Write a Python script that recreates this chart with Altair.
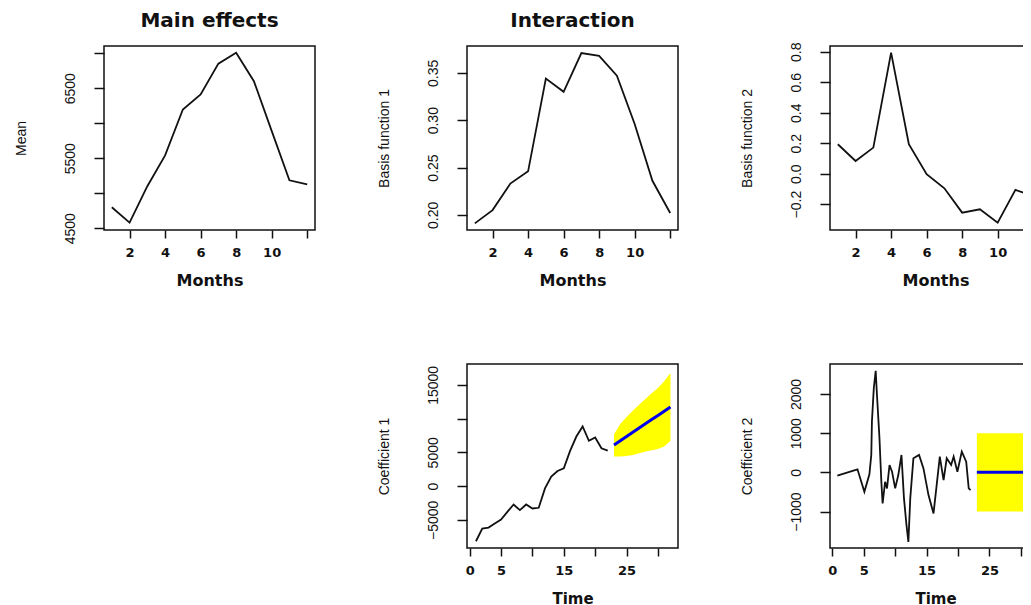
import altair as alt
import pandas as pd

# ---------------- data ----------------
months = [1, 2, 3, 4, 5, 6, 7, 8, 9, 10, 11, 12]
main_mean = [4800, 4580, 5100, 5540, 6195, 6410, 6850, 7005, 6600, 5890, 5185, 5125]
basis1 = [0.191, 0.205, 0.233, 0.246, 0.344, 0.330, 0.371, 0.368, 0.347, 0.296, 0.236, 0.202]
basis2 = [0.193, 0.083, 0.171, 0.794, 0.193, -0.004, -0.096, -0.256, -0.234, -0.322, -0.107, -0.147]

coef1_time = [1, 2, 3, 4, 5, 6, 7, 8, 9, 10, 11, 12, 13, 14, 15, 16, 17, 18, 19, 20, 21, 22]
coef1 = [-8180, -6300, -6150, -5560, -4960, -3820, -2730, -3570, -2730, -3320, -3220,
         -350, 1390, 2230, 2630, 5210, 7340, 8830, 6700, 7190, 5600, 5260]

fc_time = [23, 24, 25, 26, 27, 28, 29, 30, 31, 32]
fc1_mean = [6100, 6720, 7350, 7970, 8600, 9220, 9850, 10470, 11100, 11710]
fc1_lower = [4370, 4380, 4460, 4610, 4860, 5110, 5310, 5510, 5850, 6700]
fc1_upper = [7690, 9180, 10220, 11160, 12050, 12900, 13740, 14530, 15520, 16760]

coef2_time = [0.8, 4.0, 5.1, 5.9, 6.2, 6.3, 6.6, 6.9, 7.1, 7.5, 7.8, 8.0, 8.4, 8.7, 9.1,
              9.5, 10.0, 10.5, 11.0, 11.4, 11.8, 12.1, 12.4, 12.9, 13.8, 14.5, 15.3,
              16.1, 16.6, 17.1, 17.7, 18.2, 18.9, 19.3, 19.9, 20.6, 21.3, 21.7, 22.0]
coef2 = [-85, 77, -495, -51, 444, 1297, 2150, 2593, 1979, 870, -239, -793, -239, -409, 188,
         17, -409, -68, 444, -665, -1348, -1774, -665, 358, 444, 102, -580,
         -1049, -324, 401, -196, 358, 188, 401, 17, 529, 273, -409, -452]

fc2_mean = [0, 0, 0, 0, 0, 0, 0, 0, 0, 0]
fc2_lower = [-1000, -1000, -1000, -1000, -1000, -1000, -1000, -1000, -1000, -1000]
fc2_upper = [1000, 1000, 1000, 1000, 1000, 1000, 1000, 1000, 1000, 1000]

# ---------------- styling ----------------
BLACK = "#111111"
W, H = 211, 184
LW = 1.8
BOLD_FONT = "DejaVu Sans"
Y_FONT = "'Liberation Sans Narrow', 'Liberation Sans', Arial"
VIEW = alt.ViewBackground(stroke=BLACK, strokeWidth=1.5, fill="white")


def hide_expr(hide):
    if not hide:
        return "datum.label"
    cond = " || ".join(f"datum.value == {v}" for v in hide)
    return f"({cond}) ? '' : datum.label"


def x_axis(title, values, hide, tpad=13, tsize=16):
    return alt.Axis(
        title=title, values=values, labelExpr=hide_expr(hide), format="d",
        domain=False, grid=False, tickSize=8, tickWidth=1.5, tickColor=BLACK,
        labelFont=BOLD_FONT, labelFontWeight="bold", labelFontSize=13, labelColor=BLACK,
        labelPadding=8, labelFlush=False, labelOverlap=False,
        titleFont=BOLD_FONT, titleFontWeight="bold", titleFontSize=tsize, titleColor=BLACK,
        titlePadding=tpad,
    )


def y_axis(title, values, hide, fmt):
    return alt.Axis(
        title=title, values=values, labelExpr=hide_expr(hide), format=fmt,
        domain=False, grid=False, tickSize=10, tickWidth=1.5, tickColor=BLACK,
        labelFont=Y_FONT, labelFontSize=14, labelColor=BLACK, labelAngle=270,
        labelAlign="center", labelBaseline="bottom", labelPadding=17,
        labelFlush=False, labelOverlap=False,
        titleFont=Y_FONT, titleFontSize=14, titleFontWeight="normal", titleColor=BLACK,
        titlePadding=35,
    )


def title(text):
    return alt.TitleParams(text, anchor="middle", frame="group", font=BOLD_FONT,
                           fontSize=20, fontWeight="bold", color=BLACK,
                           baseline="top", offset=15)


def sc(lo, hi):
    return alt.Scale(domain=[lo, hi], nice=False, zero=False)


month_ticks = [2, 4, 6, 8, 10, 12]
time_ticks = [0, 5, 10, 15, 20, 25, 30]

# ---- Panel 1: Main effects ----
df1 = pd.DataFrame({"t": months, "v": main_mean})
p1 = alt.Chart(df1).mark_line(color=BLACK, strokeWidth=LW, clip=True).encode(
    x=alt.X("t:Q", scale=sc(0.56, 12.44), axis=x_axis("Months", month_ticks, [12])),
    y=alt.Y("v:Q", scale=sc(4475, 7102),
            axis=y_axis("Mean", [4500, 5000, 5500, 6000, 6500, 7000], [5000, 6000, 7000], "d")),
).properties(width=W, height=H, title=title("Main effects"), view=VIEW)

# ---- Panel 2: Basis function 1 ----
df2 = pd.DataFrame({"t": months, "v": basis1})
p2 = alt.Chart(df2).mark_line(color=BLACK, strokeWidth=LW, clip=True).encode(
    x=alt.X("t:Q", scale=sc(0.56, 12.44), axis=x_axis("Months", month_ticks, [12])),
    y=alt.Y("v:Q", scale=sc(0.1840, 0.3784),
            axis=y_axis("Basis function 1", [0.20, 0.25, 0.30, 0.35], [], ".2f")),
).properties(width=W, height=H, title=title("Interaction"), view=VIEW)

# ---- Panel 3: Basis function 2 ----
df3 = pd.DataFrame({"t": months, "v": basis2})
p3 = alt.Chart(df3).mark_line(color=BLACK, strokeWidth=LW, clip=True).encode(
    x=alt.X("t:Q", scale=sc(0.56, 12.44), axis=x_axis("Months", month_ticks, [12])),
    y=alt.Y("v:Q", scale=sc(-0.370, 0.838),
            axis=y_axis("Basis function 2", [-0.2, 0.0, 0.2, 0.4, 0.6, 0.8], [], ".1f")),
).properties(width=W, height=H, view=VIEW)

# ---- blank cell ----
blank = alt.Chart(pd.DataFrame({"t": [0]})).mark_point(opacity=0).encode(
    x=alt.X("t:Q", axis=None), y=alt.Y("t:Q", axis=None)
).properties(width=W, height=H, view=alt.ViewBackground(stroke="transparent"))

# ---- Panel 4: Coefficient 1 ----
dh4 = pd.DataFrame({"t": coef1_time, "v": coef1})
df4 = pd.DataFrame({"t": fc_time, "v": fc1_mean, "lo": fc1_lower, "hi": fc1_upper})
x4 = alt.X("t:Q", scale=sc(-0.43, 33.2),
           axis=x_axis("Time", time_ticks, [10, 20, 30], 14, 15))
y4ax = y_axis("Coefficient 1", [-5000, 0, 5000, 10000, 15000], [10000], "d")
y4 = alt.Y("v:Q", scale=sc(-9180, 18090), axis=y4ax)
band4 = alt.Chart(df4).mark_area(color="#FFFF00", opacity=1, clip=True).encode(
    x=x4, y=alt.Y("lo:Q", scale=sc(-9180, 18090), axis=y4ax), y2="hi:Q")
hist4 = alt.Chart(dh4).mark_line(color=BLACK, strokeWidth=LW, clip=True).encode(x=x4, y=y4)
fc4 = alt.Chart(df4).mark_line(color="#0000EE", strokeWidth=3, clip=True).encode(x=x4, y=y4)
p4 = alt.layer(band4, hist4, fc4).properties(width=W, height=H, view=VIEW)

# ---- Panel 5: Coefficient 2 ----
dh5 = pd.DataFrame({"t": coef2_time, "v": coef2})
df5 = pd.DataFrame({"t": fc_time, "v": fc2_mean, "lo": fc2_lower, "hi": fc2_upper})
x5 = alt.X("t:Q", scale=sc(-0.37, 33.2),
           axis=x_axis("Time", time_ticks, [10, 20, 30], 14, 15))
y5ax = y_axis("Coefficient 2", [-1000, 0, 1000, 2000], [], "d")
y5 = alt.Y("v:Q", scale=sc(-1930, 2765), axis=y5ax)
band5 = alt.Chart(df5).mark_area(color="#FFFF00", opacity=1, clip=True).encode(
    x=x5, y=alt.Y("lo:Q", scale=sc(-1930, 2765), axis=y5ax), y2="hi:Q")
hist5 = alt.Chart(dh5).mark_line(color=BLACK, strokeWidth=LW, clip=True).encode(x=x5, y=y5)
fc5 = alt.Chart(df5).mark_line(color="#0000EE", strokeWidth=3, clip=True).encode(x=x5, y=y5)
p5 = alt.layer(band5, hist5, fc5).properties(width=W, height=H, view=VIEW)

chart = alt.concat(
    p1, p2, p3, blank, p4, p5,
    columns=3, spacing={"row": 134, "column": 152}, bounds="flush",
).properties(
    padding={"left": 5, "top": 2, "right": -19, "bottom": 0},
    background="white",
)

chart.save("out.html", embed_options={"renderer": "svg", "actions": False})
